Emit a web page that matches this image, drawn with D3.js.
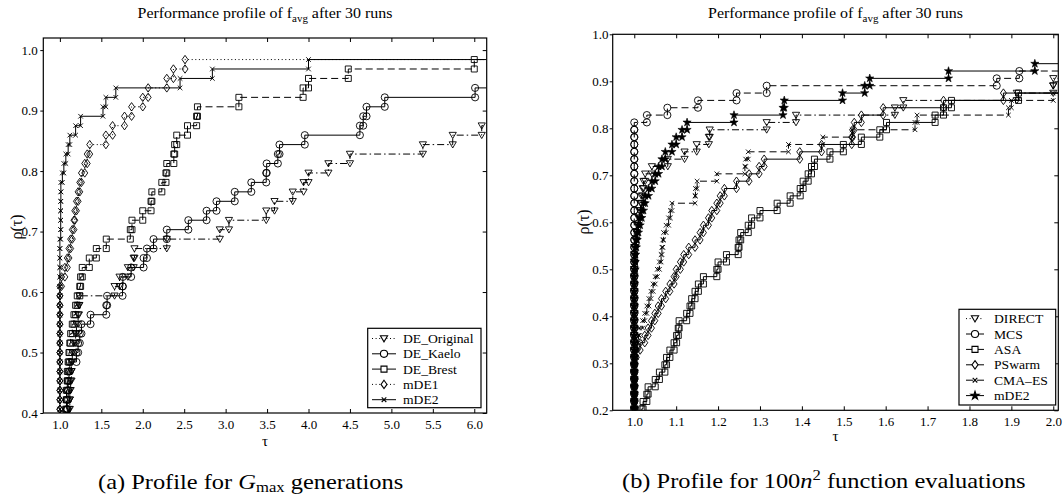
<!DOCTYPE html>
<html>
<head>
<meta charset="utf-8">
<script src="https://cdn.jsdelivr.net/npm/d3@7"></script>
<style>
body { margin: 0; background: #fff; }
text { font-family: "Liberation Serif", "Times New Roman", serif; fill: #000; }
</style>
</head>
<body>
<svg id="fig" width="1063" height="497"></svg>
<script>
// number of test problems: each solved problem adds 1/64 to rho
var nProblems = 64;

// ---- panel (a): sorted performance ratios, starting at rank 25 ----
var firstRankA = 25;
var namesA = ["DE_Original", "DE_Kaelo", "DE_Brest", "mDE1", "mDE2"];
var tauDEOriginal = [1.10, 1.11, 1.12, 1.12, 1.13, 1.14, 1.14, 1.15, 1.17, 1.19, 1.20, 1.22, 1.23, 1.235,
  1.66, 1.72, 1.82, 1.89, 1.90, 2.29, 2.93, 3.04, 3.49, 3.59, 3.81, 3.94, 4.0, 4.24, 4.50, 5.38, 5.74, 6.09];
var tauDEKaelo = [1.08, 1.09, 1.09, 1.10, 1.10, 1.11, 1.12, 1.20, 1.22, 1.24, 1.26, 1.37, 1.56, 1.57,
  1.756, 1.76, 1.86, 2.01, 2.05, 2.13, 2.29, 2.55, 2.77, 2.89, 3.11, 3.31, 3.49, 3.495, 3.63, 3.65,
  3.955, 4.62, 4.66, 4.70, 4.92, 6.01];
var tauDEBrest = [1.06, 1.07, 1.08, 1.08, 1.09, 1.09, 1.10, 1.11, 1.12, 1.13, 1.15, 1.17, 1.19, 1.21,
  1.24, 1.25, 1.27, 1.355, 1.44, 1.56, 1.85, 1.87, 2.0, 2.1, 2.11, 2.23, 2.28, 2.29, 2.375, 2.385,
  2.41, 2.54, 2.65, 2.66, 3.16, 3.935, 4.0, 4.48, 6.0];
var tauMDE1 = [1.0, 1.0, 1.0, 1.0, 1.0, 1.0, 1.0, 1.0, 1.0, 1.0, 1.0, 1.0, 1.0, 1.0, 1.0, 1.02,
  1.06, 1.09, 1.11, 1.13, 1.15, 1.17, 1.18, 1.20, 1.22, 1.24, 1.26, 1.30, 1.33, 1.36, 1.555, 1.636,
  1.78, 1.865, 2.0, 2.065, 2.29, 2.37, 2.51];
var tauMDE2a = [1.0, 1.0, 1.0, 1.0, 1.0, 1.0, 1.0, 1.0, 1.0, 1.0, 1.0, 1.0, 1.0, 1.0, 1.0, 1.0,
  1.0, 1.0, 1.0, 1.0, 1.01, 1.01, 1.01, 1.01, 1.012, 1.012, 1.03, 1.048, 1.072, 1.10, 1.12, 1.19,
  1.25, 1.52, 1.555, 1.675, 2.45, 2.84, 4.0];
var xTicksA = [1.0, 1.5, 2.0, 2.5, 3.0, 3.5, 4.0, 4.5, 5.0, 5.5, 6.0];
var yTicksA = [0.4, 0.5, 0.6, 0.7, 0.8, 0.9, 1.0];

// ---- panel (b): sorted performance ratios, starting at rank 12 ----
var firstRankB = 12;
var namesB = ["DIRECT", "MCS", "ASA", "PSwarm", "CMA\u2013ES", "mDE2"];
var tauDIRECT = [1.0, 1.0, 1.0, 1.0, 1.0, 1.0, 1.0, 1.0, 1.0, 1.0, 1.0, 1.0, 1.0, 1.0, 1.0, 1.0,
  1.0, 1.0, 1.0, 1.0, 1.0, 1.0, 1.0, 1.0, 1.003, 1.005, 1.007, 1.01, 1.012, 1.015, 1.017, 1.02,
  1.022, 1.026, 1.042, 1.08, 1.12, 1.149, 1.178, 1.18, 1.316, 1.386, 1.622, 1.642, 1.913, 2.0, 2.0];
var tauMCS = [1.0, 1.0, 1.0, 1.0, 1.0, 1.0, 1.0, 1.0, 1.0, 1.0, 1.0, 1.0, 1.0, 1.0, 1.0, 1.0,
  1.0, 1.0, 1.0, 1.0, 1.0, 1.0, 1.0, 1.0, 1.0, 1.0, 1.0, 1.0, 1.0, 1.0, 1.0, 1.0, 1.0, 1.0, 1.0,
  1.0, 1.0, 1.0, 1.0, 1.0, 1.0, 1.03, 1.079, 1.152, 1.244, 1.316, 1.865, 1.919];
var tauASA = [1.005, 1.018, 1.021, 1.03, 1.033, 1.05, 1.06, 1.073, 1.077, 1.085, 1.095, 1.101,
  1.105, 1.107, 1.125, 1.133, 1.137, 1.145, 1.153, 1.165, 1.197, 1.20, 1.22, 1.248, 1.25, 1.254,
  1.272, 1.28, 1.30, 1.341, 1.372, 1.396, 1.403, 1.415, 1.423, 1.43, 1.467, 1.499, 1.542, 1.586,
  1.602, 1.718, 1.738, 1.757, 1.917];
var tauPSwarm = [1.0, 1.0, 1.0, 1.0, 1.0, 1.0, 1.0, 1.0, 1.0, 1.005, 1.014, 1.025, 1.033, 1.041,
  1.049, 1.057, 1.065, 1.075, 1.085, 1.095, 1.10, 1.11, 1.118, 1.13, 1.145, 1.157, 1.165, 1.177,
  1.185, 1.197, 1.205, 1.215, 1.244, 1.274, 1.298, 1.31, 1.395, 1.447, 1.519, 1.521, 1.525, 1.542,
  1.594, 1.738, 1.881];
var tauCMAES = [1.0, 1.0, 1.0, 1.0, 1.0, 1.0, 1.0, 1.0, 1.0, 1.005, 1.008, 1.01, 1.012, 1.02,
  1.025, 1.03, 1.035, 1.04, 1.045, 1.05, 1.055, 1.06, 1.064, 1.066, 1.068, 1.07, 1.076, 1.082,
  1.086, 1.09, 1.145, 1.146, 1.15, 1.197, 1.264, 1.266, 1.272, 1.368, 1.45, 1.52, 1.67, 1.675,
  1.893, 1.90, 2.0];
var tauMDE2b = [1.0, 1.0, 1.0, 1.0, 1.0, 1.0, 1.0, 1.0, 1.0, 1.0, 1.0, 1.0, 1.0, 1.0, 1.0, 1.0,
  1.0, 1.0, 1.0, 1.0, 1.0, 1.002, 1.002, 1.003, 1.005, 1.007, 1.01, 1.014, 1.018, 1.022, 1.026,
  1.034, 1.042, 1.05, 1.058, 1.066, 1.074, 1.09, 1.10, 1.114, 1.126, 1.238, 1.355, 1.358, 1.497,
  1.55, 1.562, 1.75, 1.956];
var xTicksB = [1.0, 1.1, 1.2, 1.3, 1.4, 1.5, 1.6, 1.7, 1.8, 1.9, 2.0];
var yTicksB = [0.2, 0.3, 0.4, 0.5, 0.6, 0.7, 0.8, 0.9, 1.0];

var svg = d3.select("#fig");

// marker shapes
var markers = {
    triDown: "M-3.6,-2.8L3.6,-2.8L0,3.4Z",
    circle: d3.symbol(d3.symbolCircle, 40)(),
    square: "M-3,-3H3V3H-3Z",
    diamond: "M0,-4.2L3,0L0,4.2L-3,0Z",
    times: "M-2.3,-2.3L2.3,2.3M-2.3,2.3L2.3,-2.3",
    star: d3.symbol(d3.symbolStar, 21)()
};
var dashes = { solid: null, dashed: "7,4", dashdot: "7,3,1.5,3", dotted: "1,2.6" };

var panelA = {
    key: "a", box: { l: 43.3, r: 486.7, t: 38, b: 413 },
    xDomain: [0.8, 6.15], yDomain: [0.4, 1.02], xTicks: xTicksA, yTicks: yTicksA,
    first: firstRankA, names: namesA,
    series: [tauDEOriginal, tauDEKaelo, tauDEBrest, tauMDE1, tauMDE2a],
    marks: ["triDown", "circle", "square", "diamond", "times"],
    lines: ["dashdot", "solid", "dashed", "dotted", "solid"],
    legendLines: ["dotted", "solid", "solid", "dotted", "solid"],
    legend: { l: 367.7, r: 481, t: 328.3, b: 407.7, y0: 338.5, dy: 15.3, x0: 372, x1: 396, xm: 384, xt: 403 },
    titleX: 265, yLabel: [16, 227], xLabelY: 446, labelPad: 7, leftPad: 2.6,
    caption: { x: 98, y: 489 }
};
var panelB = {
    key: "b", box: { l: 612.7, r: 1058.3, t: 34.3, b: 410.3 },
    xDomain: [0.9485, 2.012], yDomain: [0.2, 1.0], xTicks: xTicksB, yTicks: yTicksB,
    first: firstRankB, names: namesB,
    series: [tauDIRECT, tauMCS, tauASA, tauPSwarm, tauCMAES, tauMDE2b],
    marks: ["triDown", "circle", "square", "diamond", "times", "star"],
    lines: ["dashdot", "dashed", "solid", "solid", "dashed", "solid"],
    legendLines: ["dotted", "solid", "solid", "solid", "dashed", "solid"],
    legend: { l: 959, r: 1055.7, t: 309.3, b: 405, y0: 318.6, dy: 15.4, x0: 966, x1: 984, xm: 975, xt: 994 },
    titleX: 835.5, yLabel: [583, 222], xLabelY: 441, labelPad: 6.5, leftPad: 1.2,
    caption: { x: 622, y: 488 }
};

function drawPanel(p) {
    var x = d3.scaleLinear().domain(p.xDomain).range([p.box.l, p.box.r]);
    var y = d3.scaleLinear().domain(p.yDomain).range([p.box.b, p.box.t]);
    var fmt = d3.format(".1f");

    svg.append("clipPath").attr("id", "clip-" + p.key)
        .append("rect")
        .attr("x", p.box.l).attr("y", p.box.t)
        .attr("width", p.box.r - p.box.l).attr("height", p.box.b - p.box.t);

    var plot = svg.append("g").attr("clip-path", "url(#clip-" + p.key + ")");

    p.series.forEach(function(taus, s) {
        // stair vertices of the profile
        var pts = [];
        taus.forEach(function(t, i) {
            var k = p.first + i;
            pts.push([t, (k - 1) / nProblems]);
            pts.push([t, k / nProblems]);
        });
        var ends = pts.concat([[p.xDomain[1], pts[pts.length - 1][1]]]);
        var line = d3.line().x(function(d) { return x(d[0]); }).y(function(d) { return y(d[1]); });
        plot.append("path")
            .attr("d", line(ends))
            .attr("fill", "none")
            .attr("stroke", "#000")
            .attr("stroke-width", 1)
            .attr("stroke-dasharray", dashes[p.lines[s]]);
        var isStar = p.marks[s] == "star";
        plot.append("g").selectAll("path")
            .data(pts)
            .enter().append("path")
            .attr("d", markers[p.marks[s]])
            .attr("transform", function(d) { return "translate(" + x(d[0]) + "," + y(d[1]) + ")"; })
            .attr("fill", isStar ? "#000" : "none")
            .attr("stroke", "#000")
            .attr("stroke-width", isStar ? 0.6 : 0.9);
    });

    // axes
    var bottom = svg.append("g").attr("transform", "translate(0," + p.box.b + ")")
        .call(d3.axisBottom(x).tickValues(p.xTicks).tickFormat(fmt).tickSize(-4).tickPadding(p.labelPad));
    var top = svg.append("g").attr("transform", "translate(0," + p.box.t + ")")
        .call(d3.axisTop(x).tickValues(p.xTicks).tickFormat("").tickSize(-4));
    var left = svg.append("g").attr("transform", "translate(" + p.box.l + ",0)")
        .call(d3.axisLeft(y).tickValues(p.yTicks).tickFormat(fmt).tickSize(3).tickPadding(p.leftPad));
    var right = svg.append("g").attr("transform", "translate(" + p.box.r + ",0)")
        .call(d3.axisRight(y).tickValues(p.yTicks).tickFormat("").tickSize(-4));
    [bottom, top, left, right].forEach(function(g) {
        g.select(".domain").remove();
        g.attr("font-family", null).attr("font-size", null);
        g.selectAll("line").attr("stroke", "#000");
        g.selectAll("text").style("font-size", "13px");
    });

    svg.append("rect")
        .attr("x", p.box.l).attr("y", p.box.t)
        .attr("width", p.box.r - p.box.l).attr("height", p.box.b - p.box.t)
        .attr("fill", "none").attr("stroke", "#000").attr("stroke-width", 1.2);

    // title
    var t = svg.append("text")
        .attr("text-anchor", "middle")
        .attr("transform", "translate(" + p.titleX + ",18) scale(1.1,1)")
        .style("font-size", "14.5px");
    t.append("tspan").text("Performance profile of f");
    t.append("tspan").attr("dy", 4).style("font-size", "10px").text("avg");
    t.append("tspan").attr("dy", -4).text(" after 30 runs");

    // axis labels
    svg.append("text")
        .attr("text-anchor", "middle")
        .attr("transform", "translate(" + p.yLabel[0] + "," + p.yLabel[1] + ") rotate(-90)")
        .attr("dy", "0.35em")
        .style("font-size", "16px")
        .text("\u03c1(\u03c4)");
    svg.append("text")
        .attr("text-anchor", "middle")
        .attr("x", (p.box.l + p.box.r) / 2)
        .attr("y", p.xLabelY)
        .style("font-size", "15px")
        .text("\u03c4");

    // legend
    var L = p.legend;
    svg.append("rect")
        .attr("x", L.l).attr("y", L.t)
        .attr("width", L.r - L.l).attr("height", L.b - L.t)
        .attr("fill", "#fff").attr("stroke", "#000").attr("stroke-width", 1.2);
    var items = svg.append("g").selectAll("g")
        .data(p.names)
        .enter().append("g")
        .attr("transform", function(d, i) { return "translate(0," + (L.y0 + i * L.dy) + ")"; });
    items.append("line")
        .attr("x1", L.x0).attr("x2", L.x1)
        .attr("stroke", "#000").attr("stroke-width", 1)
        .attr("stroke-dasharray", function(d, i) { return dashes[p.legendLines[i]]; });
    items.append("path")
        .attr("d", function(d, i) { return markers[p.marks[i]]; })
        .attr("transform", "translate(" + L.xm + ",0)")
        .attr("fill", function(d, i) { return p.marks[i] == "star" ? "#000" : "#fff"; })
        .attr("stroke", "#000").attr("stroke-width", 1.1);
    items.append("text")
        .attr("transform", "translate(" + L.xt + ",4.6) scale(1.05,1)")
        .style("font-size", "13px")
        .text(function(d) { return d; });
}

drawPanel(panelA);
drawPanel(panelB);

// captions
var ca = svg.append("text")
    .attr("transform", "translate(" + panelA.caption.x + "," + panelA.caption.y + ") scale(1.11,1)")
    .style("font-size", "22px");
ca.append("tspan").text("(a) Profile for ");
ca.append("tspan").style("font-style", "italic").text("G");
ca.append("tspan").attr("dy", 3).style("font-size", "15px").text("max");
ca.append("tspan").attr("dy", -3).text(" generations");

var cb = svg.append("text")
    .attr("transform", "translate(" + panelB.caption.x + "," + panelB.caption.y + ") scale(1.11,1)")
    .style("font-size", "22px");
cb.append("tspan").text("(b) Profile for 100");
cb.append("tspan").style("font-style", "italic").text("n");
cb.append("tspan").attr("dy", -8).style("font-size", "15px").text("2");
cb.append("tspan").attr("dy", 8).text(" function evaluations");
</script>
</body>
</html>
